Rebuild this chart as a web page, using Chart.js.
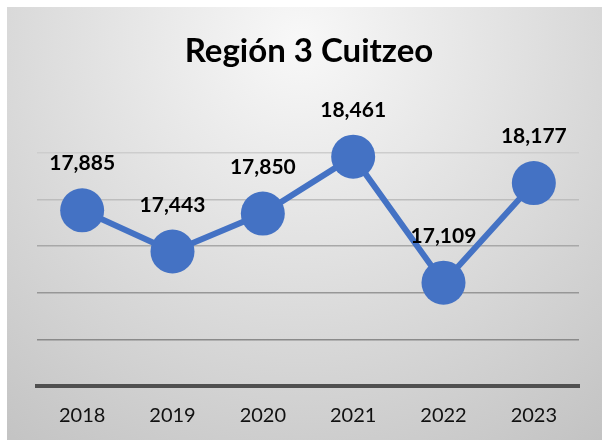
<!DOCTYPE html>
<html lang="es">
<head>
    <meta charset="UTF-8">
    <title>Región 3 Cuitzeo</title>
    <script src="https://cdn.jsdelivr.net/npm/chart.js"></script>
    <style>
        body { margin: 0; background: #fff; }
        canvas { display: block; }
    </style>
</head>
<body>
    <canvas id="chart" width="602" height="440"></canvas>

    <script>
        const years = ['2018', '2019', '2020', '2021', '2022', '2023'];
        const values = [17885, 17443, 17850, 18461, 17109, 18177];
        const valueLabels = ['17,885', '17,443', '17,850', '18,461', '17,109', '18,177'];
        const chartTitle = 'Región 3 Cuitzeo';

        // gridlines get darker towards the bottom, like the original
        const gridColors = { 16000: '#505050', 16500: '#8a8a8a', 17000: '#979797', 17500: '#a8a8a8', 18000: '#bdbdbd', 18500: '#cdcdcd' };

        const backgroundPlugin = {
            id: 'bg',
            beforeDraw(chart) {
                const ctx = chart.ctx;
                const g = ctx.createRadialGradient(300, 40, 0, 300, 40, 500);
                g.addColorStop(0, '#f8f8f8');
                g.addColorStop(1, '#c3c3c3');
                ctx.save();
                ctx.fillStyle = g;
                ctx.fillRect(7, 7, chart.width - 7, chart.height - 7);
                ctx.restore();
            }
        };

        const labelPlugin = {
            id: 'labels',
            afterDatasetsDraw(chart) {
                const ctx = chart.ctx;
                ctx.save();
                ctx.fillStyle = '#000';
                ctx.textAlign = 'center';
                ctx.textBaseline = 'alphabetic';

                ctx.font = 'bold 33px Lato';
                ctx.fillText(chartTitle, 309, 62);

                ctx.font = 'bold 21px Lato';
                chart.getDatasetMeta(0).data.forEach(function(pt, i) {
                    ctx.fillText(valueLabels[i], pt.x, pt.y - 40);
                });
                ctx.restore();
            }
        };

        new Chart(document.getElementById('chart'), {
            type: 'line',
            data: {
                labels: years,
                datasets: [{
                    data: values,
                    borderColor: '#4472C4',
                    borderWidth: 6,
                    pointRadius: 22,
                    pointHoverRadius: 22,
                    pointBackgroundColor: '#4472C4',
                    pointBorderWidth: 0,
                    clip: false
                }]
            },
            options: {
                responsive: false,
                animation: false,
                layout: { padding: { top: 153, left: 37, right: 23, bottom: 0 } },
                plugins: { legend: { display: false }, tooltip: { enabled: false } },
                scales: {
                    x: {
                        offset: true,
                        grid: { display: false, drawTicks: false },
                        border: { display: true, color: '#505050', width: 4 },
                        ticks: { color: '#111', font: { family: 'Lato', size: 20 }, padding: 18 },
                        afterFit(scale) { scale.height = 54; }
                    },
                    y: {
                        min: 16000,
                        max: 18500,
                        ticks: { display: false, stepSize: 500 },
                        border: { display: false },
                        grid: {
                            drawTicks: false,
                            lineWidth: 1.5,
                            color: c => gridColors[c.tick.value] || '#aaa'
                        }
                    }
                }
            },
            plugins: [backgroundPlugin, labelPlugin]
        });
    </script>
</body>
</html>
